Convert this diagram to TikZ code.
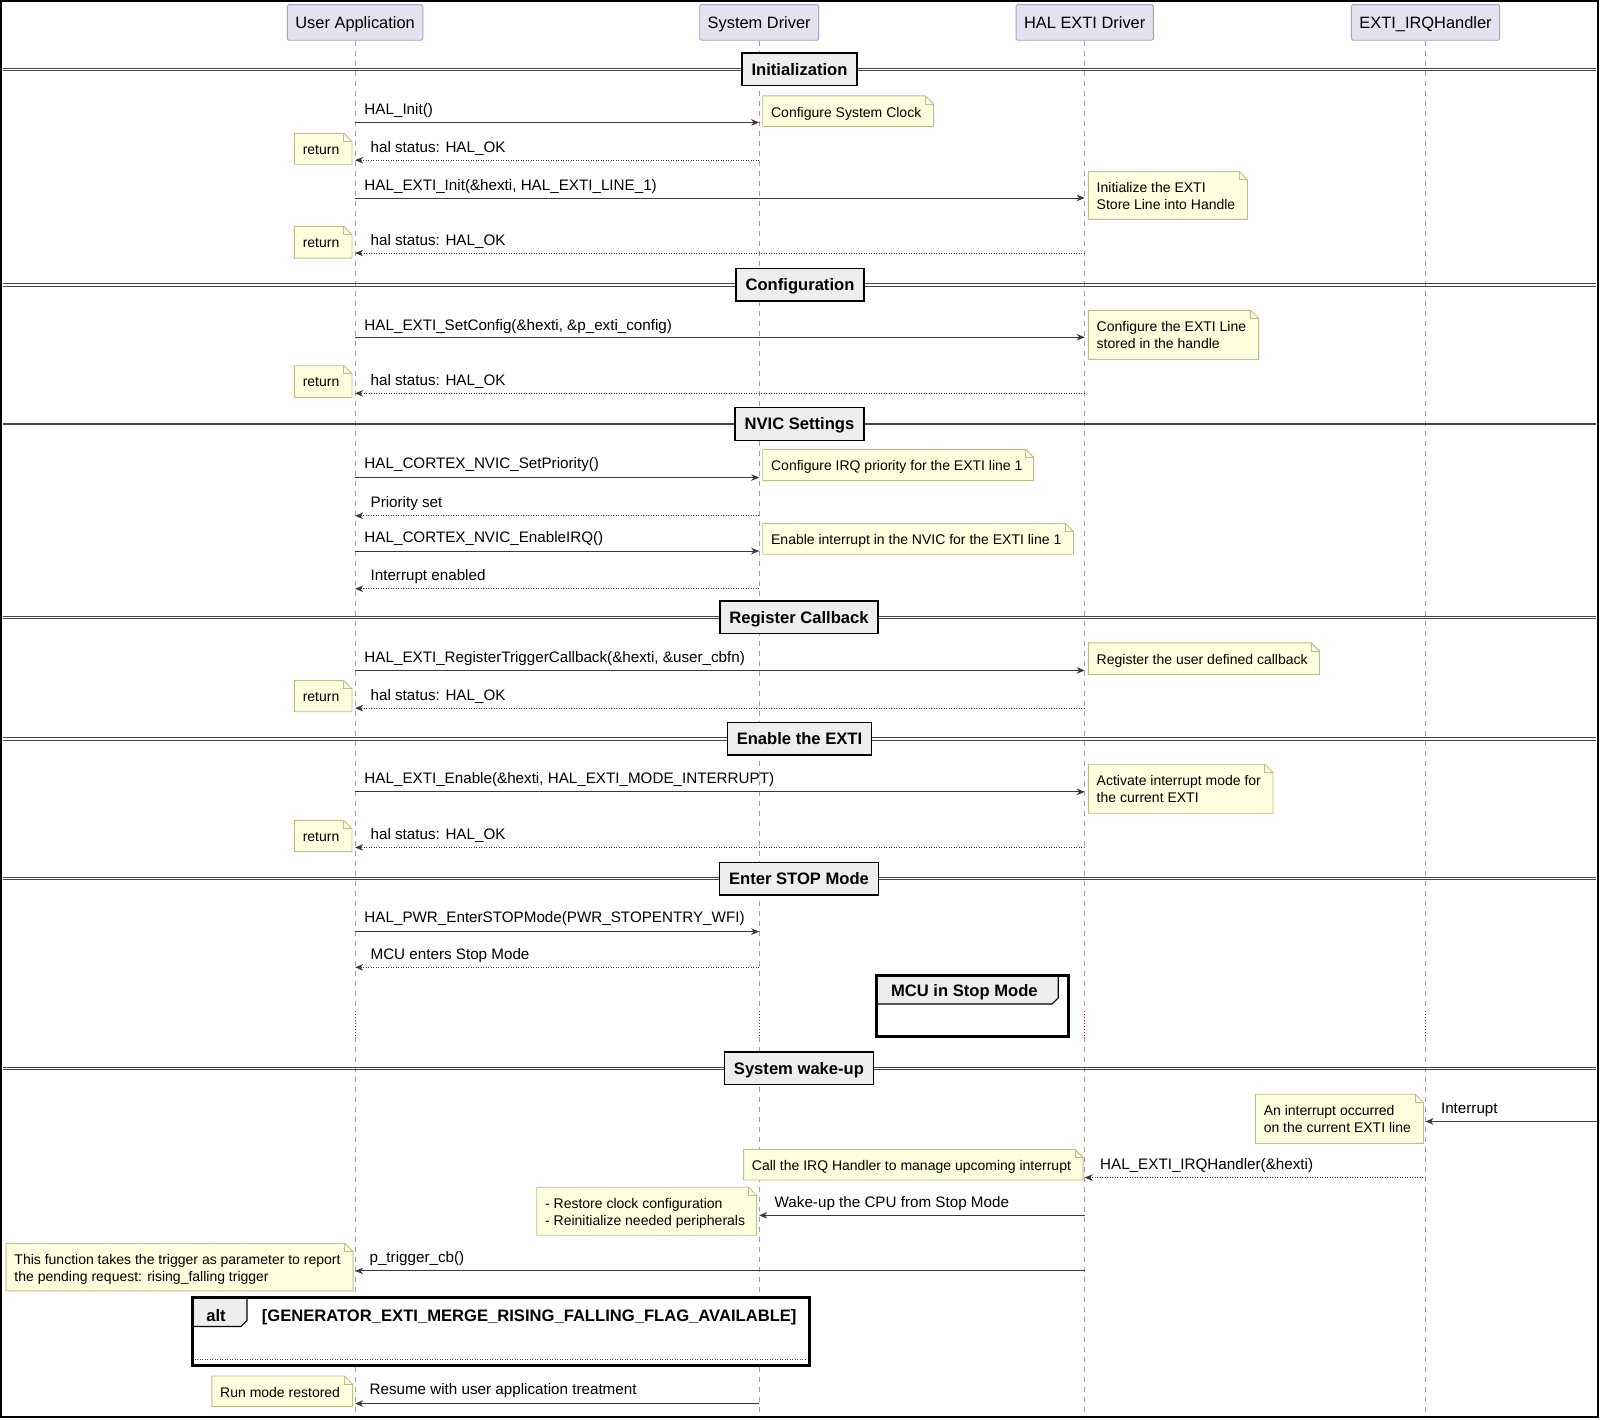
\documentclass[tikz,border=0pt]{standalone}
\usepackage{fontspec}
\setmainfont{Liberation Sans}
\usetikzlibrary{arrows.meta}
\definecolor{partfill}{RGB}{226,226,240}
\definecolor{partdraw}{RGB}{165,165,195}
\definecolor{notefill}{RGB}{254,255,221}
\definecolor{notedraw}{RGB}{190,190,140}
\definecolor{lifecol}{RGB}{160,160,160}
\definecolor{arrowcol}{RGB}{56,56,56}
\definecolor{divfill}{RGB}{238,238,238}
\definecolor{divcol}{RGB}{70,70,70}
\definecolor{delaycol}{RGB}{168,0,54}
\tikzset{
  participant/.style={draw=partdraw, fill=partfill, line width=0.9pt, rounded corners=1.5pt,
    minimum height=35.7pt, inner xsep=8pt, inner ysep=0pt, text height=11.7pt, text depth=0pt,
    font=\fontsize{16.4}{19}\selectfont},
  lifeline/.style={draw=lifecol, line width=0.8pt, dash pattern=on 5pt off 5pt},
  delayline/.style={draw=delaycol, line width=0.9pt, dash pattern=on 1pt off 2pt},
  msgtext/.style={anchor=base west, inner sep=0pt, font=\fontsize{15.2}{18}\selectfont},
  callarrow/.style={draw=arrowcol, line width=0.9pt, -{Stealth[length=8pt,width=6.5pt,inset=2.5pt]}},
  retarrow/.style={callarrow, dash pattern=on 1pt off 1.5pt},
  notetext/.style={anchor=base west, align=left, inner sep=0pt, font=\fontsize{14}{16.6}\selectfont},
  noteedge/.style={draw=notedraw, line width=0.9pt},
  divline/.style={draw=divcol, line width=0.9pt},
  divbox/.style={draw=black, fill=divfill, line width=1.4pt, minimum height=32.7pt,
    inner xsep=9.5pt, inner ysep=0pt, text height=11.9pt, text depth=0pt,
    font=\bfseries\fontsize{16.6}{19}\selectfont},
  groupframe/.style={draw=black, line width=3pt},
  grouptab/.style={draw=black, fill=divfill, line width=1.2pt},
  grouptitle/.style={anchor=base west, inner sep=0pt, font=\bfseries\fontsize{16.6}{19}\selectfont},
}
% #1 name, #2 x1, #3 y1, #4 x2, #5 y2, #6 baseline offset of last line, #7 text
\newcommand\mknote[7]{%
  \fill[notefill] (#2,#3) -- ({#4-8},#3) -- (#4,{#3+8}) -- (#4,#5) -- (#2,#5) -- cycle;
  \draw[noteedge] (#2,#3) -- ({#4-8},#3) -- (#4,{#3+8}) -- (#4,#5) -- (#2,#5) -- cycle;
  \draw[noteedge] ({#4-8},#3) -- ({#4-8},{#3+8}) -- (#4,{#3+8});
  \node[notetext] (#1) at ({#2+8},{#3+#6}) {#7};
}
\newcommand\dbldiv[1]{%
  \draw[divline] (3,{#1-1.3}) -- (1564,{#1-1.3});
  \draw[divline] (3,{#1+1.3}) -- (1564,{#1+1.3});
}
\def\oneline{20.8}
\def\twoline{37.1}
\begin{document}
\begin{tikzpicture}[x=1.0204pt,y=-1.0204pt]
\useasboundingbox (0,0) rectangle (1568,1391.6);
\fill[white] (0,0) rectangle (1568,1391.6);
\draw[black,line width=1.5pt] (1,1) rectangle (1566,1388.5);

% participants
\node[participant] (ua) at (348,22) {User Application};
\node[participant] (sd) at (744,22) {System Driver};
\node[participant] (he) at (1063,22) {HAL EXTI Driver};
\node[participant] (ih) at (1397,22) {EXTI\_IRQHandler};

% lifelines
\foreach \p in {ua,sd,he,ih}{
  \draw[lifeline] (\p.south) -- (\p |- 0,990);
  \draw[delayline] (\p |- 0,991) -- (\p |- 0,1015);
  \draw[lifeline] (\p |- 0,1016) -- (\p |- 0,1388);
}

% ===== Initialization
\dbldiv{68}
\node[divbox] (dInit) at (783.5,68) {Initialization};

\draw[callarrow] (ua |- 0,120) -- (sd |- 0,120);
\node[msgtext] (m1) at (357,112.5) {HAL\_Init()};
\mknote{n1}{747.5}{94}{915}{124}{\oneline}{Configure System Clock}

\draw[retarrow] (sd |- 0,157) -- (ua |- 0,157);
\node[msgtext] (m2) at (363,149.5) {hal status: HAL\_OK};
\mknote{r1}{288.5}{130.7}{345}{161}{\oneline}{return}

\draw[callarrow] (ua |- 0,194) -- (he |- 0,194);
\node[msgtext] (m3) at (357,186.5) {HAL\_EXTI\_Init(\&hexti, HAL\_EXTI\_LINE\_1)};
\mknote{n2}{1066.6}{168.2}{1222.5}{215}{\twoline}{Initialize the EXTI\\Store Line into Handle}

\draw[retarrow] (he |- 0,248) -- (ua |- 0,248);
\node[msgtext] (m4) at (363,240.5) {hal status: HAL\_OK};
\mknote{r2}{288.5}{222}{345}{253}{\oneline}{return}

% ===== Configuration
\dbldiv{279}
\node[divbox] (dConf) at (784,279) {Configuration};

\draw[callarrow] (ua |- 0,330.5) -- (he |- 0,330.5);
\node[msgtext] (m5) at (357,323.5) {HAL\_EXTI\_SetConfig(\&hexti, \&p\_exti\_config)};
\mknote{n3}{1066.6}{304.1}{1233.5}{352.2}{\twoline}{Configure the EXTI Line\\stored in the handle}

\draw[retarrow] (he |- 0,385.5) -- (ua |- 0,385.5);
\node[msgtext] (m6) at (363,377.5) {hal status: HAL\_OK};
\mknote{r3}{288.5}{358.4}{345}{389.4}{\oneline}{return}

% ===== NVIC Settings
\draw[divcol, line width=2.6pt] (3,415.5) -- (1564,415.5);
\node[divbox] (dNvic) at (783.5,415.5) {NVIC Settings};

\draw[callarrow] (ua |- 0,468) -- (sd |- 0,468);
\node[msgtext] (m7) at (357,459.5) {HAL\_CORTEX\_NVIC\_SetPriority()};
\mknote{n4}{747.5}{440.4}{1013}{471}{\oneline}{Configure IRQ priority for the EXTI line 1}

\draw[retarrow] (sd |- 0,505.5) -- (ua |- 0,505.5);
\node[msgtext] (m8) at (363,497) {Priority set};

\draw[callarrow] (ua |- 0,540) -- (sd |- 0,540);
\node[msgtext] (m9) at (357,532) {HAL\_CORTEX\_NVIC\_EnableIRQ()};
\mknote{n5}{747.5}{512.9}{1052}{543.2}{\oneline}{Enable interrupt in the NVIC for the EXTI line 1}

\draw[retarrow] (sd |- 0,577) -- (ua |- 0,577);
\node[msgtext] (m10) at (363,569) {Interrupt enabled};

% ===== Register Callback
\dbldiv{605}
\node[divbox] (dReg) at (783,605) {Register Callback};

\draw[callarrow] (ua |- 0,657) -- (he |- 0,657);
\node[msgtext] (m11) at (357,649) {HAL\_EXTI\_RegisterTriggerCallback(\&hexti, \&user\_cbfn)};
\mknote{n6}{1066.6}{630}{1293}{661}{\oneline}{Register the user defined callback}

\draw[retarrow] (he |- 0,694) -- (ua |- 0,694);
\node[msgtext] (m12) at (363,686) {hal status: HAL\_OK};
\mknote{r4}{288.5}{667}{345}{697.5}{\oneline}{return}

% ===== Enable the EXTI
\dbldiv{724}
\node[divbox] (dEn) at (783.5,724) {Enable the EXTI};

\draw[callarrow] (ua |- 0,776) -- (he |- 0,776);
\node[msgtext] (m13) at (357,768) {HAL\_EXTI\_Enable(\&hexti, HAL\_EXTI\_MODE\_INTERRUPT)};
\mknote{n7}{1066.6}{749}{1247.5}{797}{\twoline}{Activate interrupt mode for\\the current EXTI}

\draw[retarrow] (he |- 0,830.5) -- (ua |- 0,830.5);
\node[msgtext] (m14) at (363,822.5) {hal status: HAL\_OK};
\mknote{r5}{288.5}{804}{345}{834.5}{\oneline}{return}

% ===== Enter STOP Mode
\dbldiv{861}
\node[divbox] (dStop) at (783,861) {Enter STOP Mode};

\draw[callarrow] (ua |- 0,913) -- (sd |- 0,913);
\node[msgtext] (m15) at (357,904.5) {HAL\_PWR\_EnterSTOPMode(PWR\_STOPENTRY\_WFI)};

\draw[retarrow] (sd |- 0,948) -- (ua |- 0,948);
\node[msgtext] (m16) at (363,940) {MCU enters Stop Mode};

% group MCU in Stop Mode
\fill[white] (858.5,955.5) rectangle (1047,1015.5);
\fill[divfill] (859.5,956.5) -- (1036.4,956.5) -- (1036.4,977.6) -- (1030.6,983.4) -- (859.5,983.4) -- cycle;
\draw[grouptab] (858.5,984) -- (1031,984) -- (1037,978) -- (1037,955.5);
\draw[groupframe] (858.5,955.5) rectangle (1047,1015.5);
\node[grouptitle] (gStop) at (873,977) {MCU in Stop Mode};

% ===== System wake-up
\dbldiv{1047}
\node[divbox] (dWake) at (783,1047) {System wake-up};

\coordinate (irqsrc) at (1565,1099);
\draw[callarrow] (irqsrc) -- (ih |- irqsrc);
\node[msgtext] (m17) at (1412,1091.5) {Interrupt};
\mknote{n8}{1230.3}{1072.4}{1395}{1120.5}{\twoline}{An interrupt occurred\\on the current EXTI line}

\draw[retarrow] (ih |- 0,1154) -- (he |- 0,1154);
\node[msgtext] (m18) at (1078,1146) {HAL\_EXTI\_IRQHandler(\&hexti)};
\mknote{n9}{728.7}{1126.4}{1061.5}{1156.4}{\oneline}{Call the IRQ Handler to manage upcoming interrupt}

\draw[callarrow] (he |- 0,1191) -- (sd |- 0,1191);
\node[msgtext] (m19) at (759,1183) {Wake-up the CPU from Stop Mode};
\mknote{n10}{526}{1163.5}{741.5}{1210.5}{\twoline}{- Restore clock configuration\\- Reinitialize needed peripherals}

\draw[callarrow] (he |- 0,1245.5) -- (ua |- 0,1245.5);
\node[msgtext] (m20) at (362,1237.5) {p\_trigger\_cb()};
\mknote{n11}{6}{1218.5}{346}{1265}{\twoline}{This function takes the trigger as parameter to report\\the pending request: rising\_falling trigger}

% alt group
\fill[white] (189,1272) rectangle (793,1338);
\fill[divfill] (190,1273) -- (241.4,1273) -- (241.4,1293.5) -- (235.4,1299.4) -- (190,1299.4) -- cycle;
\draw[grouptab] (189,1300) -- (236,1300) -- (242,1294) -- (242,1272);
\draw[draw=divcol, line width=0.9pt, dash pattern=on 1pt off 1.5pt] (191,1331.8) -- (791,1331.8);
\draw[groupframe] (189,1272) rectangle (793,1338);
\node[grouptitle] (gAlt) at (202,1295.5) {alt};
\node[grouptitle] (gAltCond) at (256.4,1295.5) {[GENERATOR\_EXTI\_MERGE\_RISING\_FALLING\_FLAG\_AVAILABLE]};

\draw[callarrow] (sd |- 0,1375.5) -- (ua |- 0,1375.5);
\node[msgtext] (m21) at (362,1367) {Resume with user application treatment};
\mknote{n12}{207.6}{1348.5}{345.6}{1378.5}{\oneline}{Run mode restored}

\end{tikzpicture}
\end{document}
